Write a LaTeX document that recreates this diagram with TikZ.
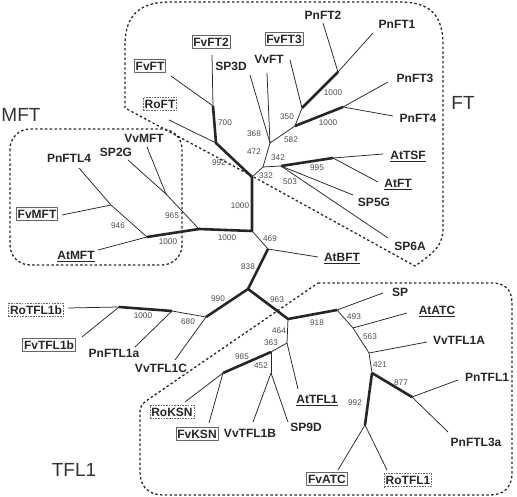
\documentclass[tikz,border=0pt]{standalone}
\usepackage{fontspec}
\setmainfont{Liberation Sans}
\begin{document}
\begin{tikzpicture}[x=1pt,y=-1pt,line join=round,
  br/.style={line width=0.75pt, draw=black!85},
  tk/.style={line width=2.6pt, draw=black!85},
  leaf/.style={font=\fontsize{12}{13}\selectfont\bfseries, text=black!85, inner sep=1.5pt, text height=8.6pt, text depth=0pt},
  sbox/.style={leaf, draw=black!60, line width=0.8pt, inner xsep=1.3pt, inner ysep=2.5pt},
  dbox/.style={leaf, draw=black!60, line width=0.7pt, dash pattern=on 1.6pt off 1.1pt, inner xsep=1.3pt, inner ysep=2.5pt},
  bs/.style={font=\fontsize{8.2}{9}\selectfont, text=black!70, inner sep=0pt},
  grp/.style={font=\fontsize{19}{22}\selectfont, text=black!80, inner sep=0pt},
  region/.style={line width=1.3pt, dash pattern=on 2.4pt off 2.4pt, draw=black!85}
]
\useasboundingbox (0,0) rectangle (517,497);

% ---------- regions ----------
\draw[region] (252,176) -- (125,108) -- (125,45) .. controls (125,15) and (140,2) .. (170,2)
  -- (400,2) .. controls (430,2) and (443,15) .. (443,45) -- (443,228)
  .. controls (443,245) and (435,252) .. (415,266) -- cycle;
\draw[region, rounded corners=20pt] (10,129) rectangle (182,265);
\draw[region] (318,283) -- (492,283) .. controls (505,283) and (512,290) .. (512,303)
  -- (512,473) .. controls (512,488) and (503,495) .. (490,495) -- (163,495)
  .. controls (148,495) and (140,486) .. (140,472) -- (140,412) .. controls (140,407) and (142,404) .. (146,401) -- cycle;

% ---------- group labels ----------
\node[grp] (gFT) at (463,103) {FT};
\node[grp] (gMFT) at (21,115) {MFT};
\node[grp] (gTFL) at (74,470) {TFL1};

% ---------- internal nodes ----------
\coordinate (C0) at (252,177);
\coordinate (n1) at (213,106);
\coordinate (n2) at (216,143);
\coordinate (B) at (263,167);
\coordinate (A) at (270,143);
\coordinate (E) at (295,126);
\coordinate (F) at (302,108);
\coordinate (G) at (338,72);
\coordinate (H) at (343,107);
\coordinate (Cn) at (281,166);
\coordinate (D) at (333,158);
\coordinate (I) at (252,231);
\coordinate (J) at (199,229);
\coordinate (K) at (166,194);
\coordinate (L) at (147,237);
\coordinate (M) at (111,205);
\coordinate (N) at (268,249);
\coordinate (O) at (248,289);
\coordinate (P) at (206,317);
\coordinate (R) at (172,311);
\coordinate (S) at (119,307);
\coordinate (Q) at (288,319);
\coordinate (T) at (337,310);
\coordinate (U) at (353,328);
\coordinate (V) at (369,353);
\coordinate (W) at (372,373);
\coordinate (X) at (412,397);
\coordinate (Y) at (365,425);
\coordinate (Z) at (287,343);
\coordinate (AA) at (271,352);
\coordinate (AB) at (223,373);
\coordinate (AC) at (271,373);

% ---------- leaf end points ----------
\coordinate (eFvFT2) at (212,55);
\coordinate (eFvFT) at (171,76);
\coordinate (eRoFT) at (169,120);
\coordinate (eSP3D) at (250,75);
\coordinate (eVvFT) at (267,73);
\coordinate (eFvFT3) at (290,60);
\coordinate (ePnFT2) at (323,23);
\coordinate (ePnFT1) at (373,33);
\coordinate (ePnFT3) at (388,82);
\coordinate (ePnFT4) at (393,116);
\coordinate (eAtTSF) at (383,154);
\coordinate (eAtFT) at (378,182);
\coordinate (eSP5G) at (353,195);
\coordinate (eSP6A) at (388,238);
\coordinate (eVvMFT) at (147,147);
\coordinate (eSP2G) at (128,160);
\coordinate (ePnFTL4) at (79,168);
\coordinate (eFvMFT) at (62,215);
\coordinate (eAtMFT) at (98,250);
\coordinate (eAtBFT) at (318,257);
\coordinate (eRoTFL1b) at (68,308);
\coordinate (eFvTFL1b) at (82,337);
\coordinate (ePnFTL1a) at (135,347);
\coordinate (eVvTFL1C) at (175,360);
\coordinate (eSP) at (383,293);
\coordinate (eAtATC) at (407,313);
\coordinate (eVvTFL1A) at (427,342);
\coordinate (ePnTFL1) at (458,380);
\coordinate (ePnFTL3a) at (448,432);
\coordinate (eFvATC) at (338,470);
\coordinate (eRoTFL1) at (387,470);
\coordinate (eAtTFL1) at (298,389);
\coordinate (eRoKSN) at (185,402);
\coordinate (eFvKSN) at (209,423);
\coordinate (eVvTFL1B) at (253,422);
\coordinate (eSP9D) at (288,422);

% ---------- FT clade ----------
\draw[br] (eFvFT2) -- (n1);
\draw[tk] (n1) -- (n2) -- (C0);
\draw[br] (eFvFT) -- (n1);
\draw[br] (eRoFT) -- (n2);
\draw[br] (C0) -- (B) -- (A);
\draw[br] (eSP3D) -- (A);
\draw[br] (eVvFT) -- (A);
\draw[br] (A) -- (E) -- (F);
\draw[br] (eFvFT3) -- (F);
\draw[tk] (F) -- (G);
\draw[br] (G) -- (ePnFT2);
\draw[br] (G) -- (ePnFT1);
\draw[tk] (E) -- (H);
\draw[br] (H) -- (ePnFT3);
\draw[br] (H) -- (ePnFT4);
\draw[br] (B) -- (Cn);
\draw[tk] (Cn) -- (D);
\draw[br] (D) -- (eAtTSF);
\draw[br] (D) -- (eAtFT);
\draw[br] (Cn) -- (eSP5G);
\draw[br] (Cn) -- (eSP6A);

% ---------- MFT clade ----------
\draw[tk] (C0) -- (I) -- (J) -- (L);
\draw[br] (J) -- (K) -- (eSP2G);
\draw[br] (K) -- (eVvMFT);
\draw[br] (L) -- (eAtMFT);
\draw[br] (L) -- (M) -- (ePnFTL4);
\draw[br] (M) -- (eFvMFT);

% ---------- AtBFT and TFL1 clade ----------
\draw[br] (I) -- (N) -- (eAtBFT);
\draw[tk] (N) -- (O);
\draw[tk] (O) -- (P);
\draw[br] (P) -- (R);
\draw[br] (P) -- (eVvTFL1C);
\draw[tk] (R) -- (S);
\draw[br] (R) -- (ePnFTL1a);
\draw[br] (S) -- (eRoTFL1b);
\draw[br] (S) -- (eFvTFL1b);
\draw[tk] (O) -- (Q) -- (T);
\draw[br] (T) -- (eSP);
\draw[br] (T) -- (U) -- (V) -- (W);
\draw[br] (U) -- (eAtATC);
\draw[br] (V) -- (eVvTFL1A);
\draw[tk] (W) -- (X);
\draw[br] (X) -- (ePnTFL1);
\draw[br] (X) -- (ePnFTL3a);
\draw[tk] (W) -- (Y);
\draw[br] (Y) -- (eFvATC);
\draw[br] (Y) -- (eRoTFL1);
\draw[br] (Q) -- (Z) -- (eAtTFL1);
\draw[br] (Z) -- (AA);
\draw[tk] (AA) -- (AB);
\draw[br] (AB) -- (eRoKSN);
\draw[br] (AB) -- (eFvKSN);
\draw[br] (AA) -- (AC);
\draw[br] (AC) -- (eVvTFL1B);
\draw[br] (AC) -- (eSP9D);

% ---------- leaf labels ----------
\node[sbox] (lFvFT2) at (211,42) {FvFT2};
\node[sbox] (lFvFT3) at (284,39) {FvFT3};
\node[sbox] (lFvFT) at (150,66) {FvFT};
\node[dbox] (lRoFT) at (160,104) {RoFT};
\node[leaf] (lSP3D) at (231,66) {SP3D};
\node[leaf] (lVvFT) at (269,59) {VvFT};
\node[leaf] (lPnFT2) at (323,15) {PnFT2};
\node[leaf] (lPnFT1) at (397,24) {PnFT1};
\node[leaf] (lPnFT3) at (415,78) {PnFT3};
\node[leaf] (lPnFT4) at (418,118) {PnFT4};
\node[leaf] (lAtTSF) at (408,155) {\underline{AtTSF}};
\node[leaf] (lAtFT) at (398,183) {\underline{AtFT}};
\node[leaf] (lSP5G) at (374,202) {SP5G};
\node[leaf] (lSP6A) at (410,246) {SP6A};
\node[leaf] (lPnFTL4) at (69,158) {PnFTL4};
\node[leaf] (lSP2G) at (116,152) {SP2G};
\node[leaf] (lVvMFT) at (144,138) {VvMFT};
\node[sbox] (lFvMFT) at (37,214) {FvMFT};
\node[leaf] (lAtMFT) at (76,255) {\underline{AtMFT}};
\node[leaf] (lAtBFT) at (342,257) {\underline{AtBFT}};
\node[dbox] (lRoTFL1b) at (36,310) {RoTFL1b};
\node[sbox] (lFvTFL1b) at (49,345) {FvTFL1b};
\node[leaf] (lPnFTL1a) at (114,353) {PnFTL1a};
\node[leaf] (lVvTFL1C) at (161,368) {VvTFL1C};
\node[leaf] (lSP) at (400,292) {SP};
\node[leaf] (lAtATC) at (437,310) {\underline{AtATC}};
\node[leaf] (lVvTFL1A) at (459,340) {VvTFL1A};
\node[leaf] (lPnTFL1) at (487,377) {PnTFL1};
\node[leaf] (lPnFTL3a) at (476,442) {PnFTL3a};
\node[sbox] (lFvATC) at (327,479) {FvATC};
\node[dbox] (lRoTFL1) at (408,480) {RoTFL1};
\node[leaf] (lAtTFL1) at (317,399) {\underline{AtTFL1}};
\node[leaf] (lSP9D) at (306,427) {SP9D};
\node[leaf] (lVvTFL1B) at (250,433) {VvTFL1B};
\node[dbox] (lRoKSN) at (172,412) {RoKSN};
\node[sbox] (lFvKSN) at (197,434) {FvKSN};

% ---------- bootstrap values ----------
\node[bs] (b700) at (225,123) {700};
\node[bs] (b992a) at (219,163) {992};
\node[bs] (b368) at (254,134) {368};
\node[bs] (b472) at (254,152) {472};
\node[bs] (b332) at (266,176) {332};
\node[bs] (b342) at (278,158) {342};
\node[bs] (b503) at (290,182) {503};
\node[bs] (b995) at (317,168) {995};
\node[bs] (b350) at (287,117) {350};
\node[bs] (b582) at (291,140) {582};
\node[bs] (b1000a) at (333,93) {1000};
\node[bs] (b1000b) at (328,123) {1000};
\node[bs] (b946) at (118,226) {946};
\node[bs] (b965) at (172,216) {965};
\node[bs] (b1000c) at (168,242) {1000};
\node[bs] (b1000d) at (227,238) {1000};
\node[bs] (b1000e) at (240,206) {1000};
\node[bs] (b469) at (270,239) {469};
\node[bs] (b838) at (248,267) {838};
\node[bs] (b990) at (218,299) {990};
\node[bs] (b963) at (277,300) {963};
\node[bs] (b680) at (188,322) {680};
\node[bs] (b1000f) at (143,316) {1000};
\node[bs] (b918) at (317,323) {918};
\node[bs] (b493) at (354,317) {493};
\node[bs] (b563) at (370,337) {563};
\node[bs] (b421) at (380,365) {421};
\node[bs] (b877) at (401,383) {877};
\node[bs] (b992b) at (355,403) {992};
\node[bs] (b464) at (279,331) {464};
\node[bs] (b363) at (271,343) {363};
\node[bs] (b985) at (242,357) {985};
\node[bs] (b452) at (261,366) {452};
\end{tikzpicture}
\end{document}
